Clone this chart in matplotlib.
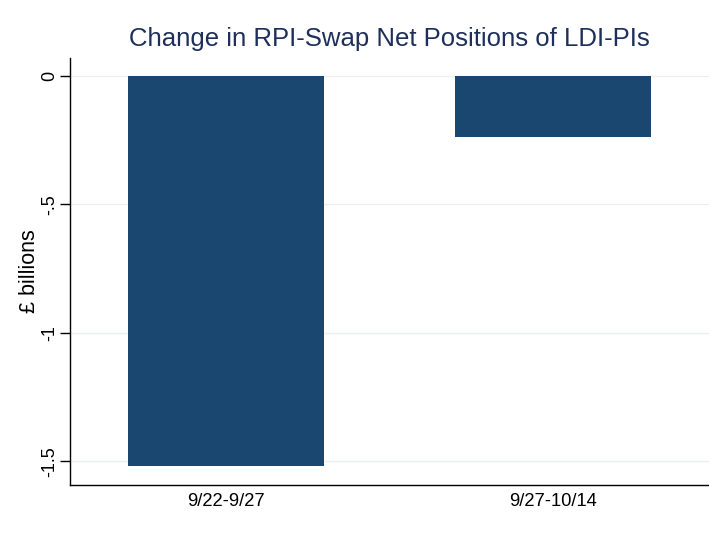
import numpy as np
import matplotlib.pyplot as plt

plt.rcParams['font.family'] = ['Liberation Sans', 'DejaVu Sans']

# data
periods = ['9/22-9/27', '9/27-10/14']
changes = [-1.52, -0.24]
yticks = [0, -0.5, -1, -1.5]
ytick_labels = ['0', '-.5', '-1', '-1.5']

fig = plt.figure(figsize=(7.09, 5.36), dpi=100)
ax = fig.add_axes([0.0994, 0.0951, 0.9, 0.797])

x = np.arange(1, len(periods) + 1)
ax.bar(x, changes, width=0.6, color='#1a476f', zorder=2)

ax.set_xlim(0.524, 2.476)
ax.set_ylim(-1.593, 0.07)
ax.set_xticks(x)
ax.set_xticklabels(periods, fontsize=13.2)
ax.tick_params(axis='x', length=0, pad=6)
ax.set_yticks(yticks)
ax.set_yticklabels(ytick_labels, fontsize=13, rotation=90, va='center')
ax.tick_params(axis='y', length=7, width=1, pad=1.5)
ax.grid(axis='y', color='#eaf0f2', linewidth=1, zorder=0)
ax.set_axisbelow(True)

for s in ['top', 'right']:
    ax.spines[s].set_visible(False)
for s in ['left', 'bottom']:
    ax.spines[s].set_linewidth(1)

ax.set_ylabel('£ billions', fontsize=15.5, labelpad=1)
ax.set_title('Change in RPI-Swap Net Positions of LDI-PIs', fontsize=18.5,
             color='#1e2f5c', pad=8.5)

fig.savefig('out.png', dpi=100)
